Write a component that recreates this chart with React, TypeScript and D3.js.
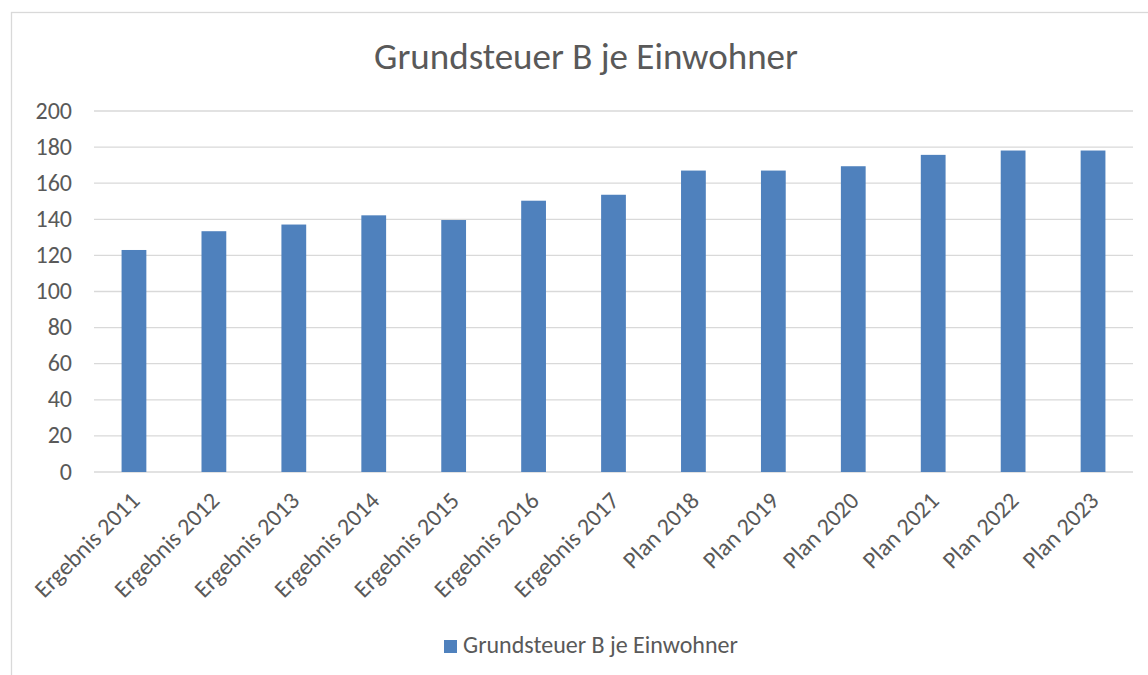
import React from "react";
import * as d3 from "d3";

const categories = [
  "Ergebnis 2011", "Ergebnis 2012", "Ergebnis 2013", "Ergebnis 2014", "Ergebnis 2015",
  "Ergebnis 2016", "Ergebnis 2017", "Plan 2018", "Plan 2019", "Plan 2020",
  "Plan 2021", "Plan 2022", "Plan 2023",
];
const values = [123, 133.4, 137.1, 142.2, 139.6, 150.3, 153.6, 167.0, 167.0, 169.4, 175.7, 178.1, 178.1];
const yTicks = [0, 20, 40, 60, 80, 100, 120, 140, 160, 180, 200];
const seriesName = "Grundsteuer B je Einwohner";
const title = "Grundsteuer B je Einwohner";

const W = 1148;
const H = 675;
const FONT = "Carlito, Calibri, 'Open Sans', 'Liberation Sans', sans-serif";
const TEXT = "#595959";
const BLUE = "#4f81bd";

export default function App() {
  const left = 94, right = 1133, top = 111, bottom = 472;
  const x = d3.scaleBand<string>().domain(categories).range([left, right]).paddingInner(0.69).paddingOuter(0.345);
  const y = d3.scaleLinear().domain([0, 200]).range([bottom, top]);

  return (
    <svg width={W} height={H} style={{ position: "absolute", left: 0, top: 0, background: "#fff" }} fontFamily={FONT}>
      <rect x={11.5} y={12.5} width={W + 10} height={H + 10} fill="#fff" stroke="#d9d9d9" strokeWidth={1.3} />
      <text x={586} y={69} textAnchor="middle" fontSize={37} fill={TEXT}>{title}</text>
      {yTicks.map((t) => (
        <g key={t}>
          <line x1={left} x2={right} y1={y(t)} y2={y(t)} stroke="#d9d9d9" strokeWidth={1.3} />
          <text x={72} y={y(t) + 7.5} textAnchor="end" fontSize={24} fill={TEXT}>{t}</text>
        </g>
      ))}
      {values.map((v, i) => (
        <rect key={i} x={x(categories[i])!} y={y(v)} width={x.bandwidth()} height={bottom - y(v)} fill={BLUE} />
      ))}
      {categories.map((c) => {
        const cx = x(c)! + x.bandwidth() / 2 + 3;
        return (
          <text key={c} transform={`translate(${cx},${bottom + 26}) rotate(-45)`} textAnchor="end" dominantBaseline="middle" fontSize={24} fill={TEXT}>{c}</text>
        );
      })}
      <rect x={444} y={640} width={13} height={13} fill={BLUE} />
      <text x={463} y={653} fontSize={24} fill={TEXT}>{seriesName}</text>
    </svg>
  );
}
